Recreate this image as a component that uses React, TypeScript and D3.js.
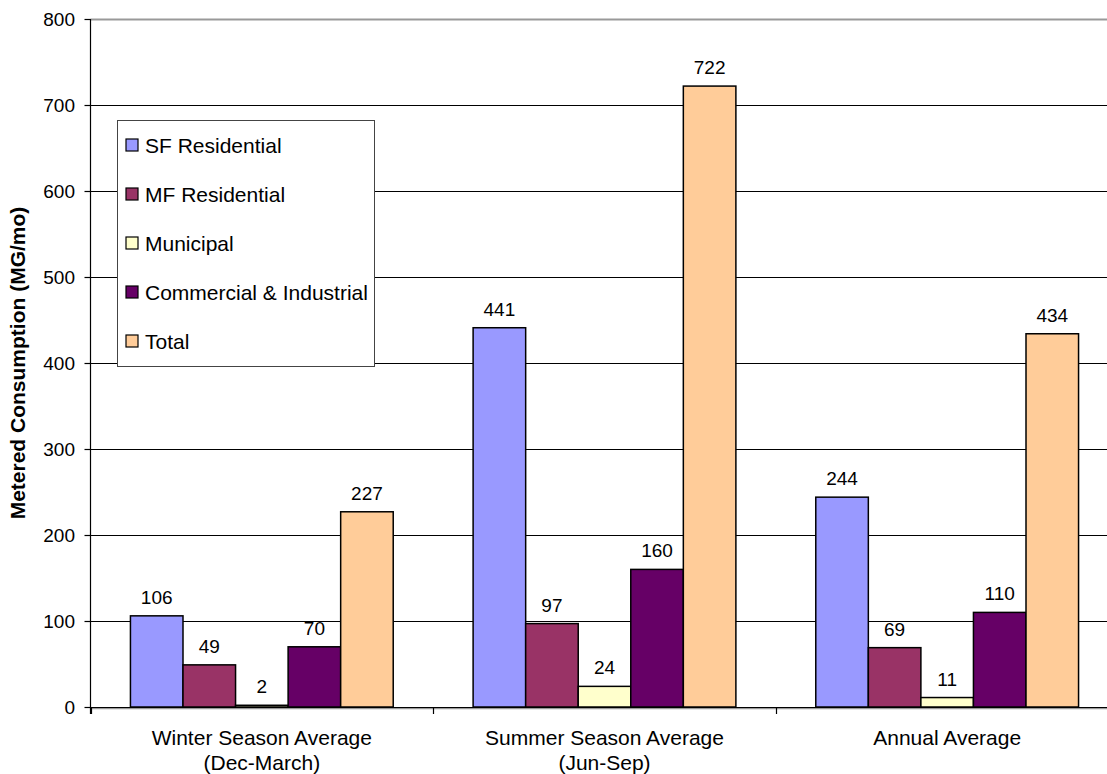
import React from "react";
import * as d3 from "d3";

const categories = [
  ["Winter Season Average", "(Dec-March)"],
  ["Summer Season Average", "(Jun-Sep)"],
  ["Annual Average"],
];
const seriesNames = ["SF Residential", "MF Residential", "Municipal", "Commercial & Industrial", "Total"];
const seriesColors = ["#9999FF", "#993366", "#FFFFCC", "#660066", "#FFCC99"];
const sfResidential = [106, 441, 244];
const mfResidential = [49, 97, 69];
const municipal = [2, 24, 11];
const commercialIndustrial = [70, 160, 110];
const total = [227, 722, 434];
const yTicks = [0, 100, 200, 300, 400, 500, 600, 700, 800];

const seriesValues = [sfResidential, mfResidential, municipal, commercialIndustrial, total];

const W = 1107;
const H = 774;
const plot = { left: 90.5, right: 1118.5, top: 19, bottom: 707 };
const font = "Arial, 'Liberation Sans', sans-serif";

export default function App() {
  const y = d3.scaleLinear().domain([0, 800]).range([plot.bottom, plot.top]);
  const x0 = d3
    .scaleBand<number>()
    .domain(categories.map((_, i) => i))
    .range([plot.left, plot.right])
    .padding(0);
  const x1 = d3
    .scaleBand<number>()
    .domain(seriesNames.map((_, i) => i))
    .range([0, x0.bandwidth()])
    .paddingInner(0)
    .paddingOuter(0.76);

  return (
    <svg width={W} height={H} style={{ position: "absolute", left: 0, top: 0, background: "#fff" }} fontFamily={font}>
      {/* grid lines */}
      {yTicks.filter((t) => t > 0).map((t) => (
        <line
          key={t}
          x1={plot.left}
          x2={plot.right}
          y1={Math.round(y(t)) + 0.5}
          y2={Math.round(y(t)) + 0.5}
          stroke={t === 800 ? "#999" : "#000"}
          strokeWidth={t === 800 ? 2 : 1}
        />
      ))}
      {/* bars */}
      {categories.map((_, ci) => (
        <g key={ci} transform={`translate(${x0(ci)},0)`}>
          {seriesValues.map((vals, si) => {
            const v = vals[ci];
            const bx = x1(si)!;
            return (
              <g key={si}>
                <rect
                  x={bx}
                  y={y(v)}
                  width={x1.bandwidth()}
                  height={plot.bottom - y(v)}
                  fill={seriesColors[si]}
                  stroke="#000"
                  strokeWidth={1.5}
                />
                <text
                  x={bx + x1.bandwidth() / 2}
                  y={y(v) - 12}
                  textAnchor="middle"
                  fontSize={19}
                  fill="#000"
                >
                  {v}
                </text>
              </g>
            );
          })}
        </g>
      ))}
      {/* x axis */}
      <line x1={plot.left} x2={plot.right} y1={plot.bottom + 1.5} y2={plot.bottom + 1.5} stroke="#999" strokeWidth={1.5} />
      <line x1={plot.left} x2={plot.right} y1={plot.bottom + 0.5} y2={plot.bottom + 0.5} stroke="#000" strokeWidth={1.2} />
      {categories.map((_, ci) => (
        <line
          key={ci}
          x1={Math.round(x0(ci)!) + 0.5}
          x2={Math.round(x0(ci)!) + 0.5}
          y1={plot.bottom}
          y2={plot.bottom + 7}
          stroke="#000"
          strokeWidth={1.2}
        />
      ))}
      {categories.map((lines, ci) => (
        <text key={ci} textAnchor="middle" fontSize={21} fill="#000">
          {lines.map((l, li) => (
            <tspan key={li} x={x0(ci)! + x0.bandwidth() / 2} y={745 + li * 25}>
              {l}
            </tspan>
          ))}
        </text>
      ))}
      {/* y axis */}
      <line x1={plot.left} x2={plot.left} y1={plot.top} y2={plot.bottom + 7} stroke="#000" strokeWidth={1.2} />
      {yTicks.map((t) => (
        <g key={t}>
          <line
            x1={plot.left - 6}
            x2={plot.left}
            y1={Math.round(y(t)) + 0.5}
            y2={Math.round(y(t)) + 0.5}
            stroke="#000"
            strokeWidth={1.2}
          />
          <text x={75} y={y(t) + 7} textAnchor="end" fontSize={19} fill="#000">
            {t}
          </text>
        </g>
      ))}
      <text
        transform={`translate(25,${(plot.top + plot.bottom) / 2}) rotate(-90)`}
        textAnchor="middle"
        fontSize={21}
        fontWeight="bold"
        fill="#000"
      >
        Metered Consumption (MG/mo)
      </text>
      {/* legend */}
      <rect x={117.5} y={120.5} width={257} height={246} fill="#fff" stroke="#444" strokeWidth={1} />
      {seriesNames.map((name, si) => (
        <g key={si} transform={`translate(126,${145 + si * 49})`}>
          <rect x={0} y={-6} width={12} height={12} fill={seriesColors[si]} stroke="#000" strokeWidth={1.2} />
          <text x={19} y={7.5} fontSize={21} fill="#000">
            {name}
          </text>
        </g>
      ))}
    </svg>
  );
}
